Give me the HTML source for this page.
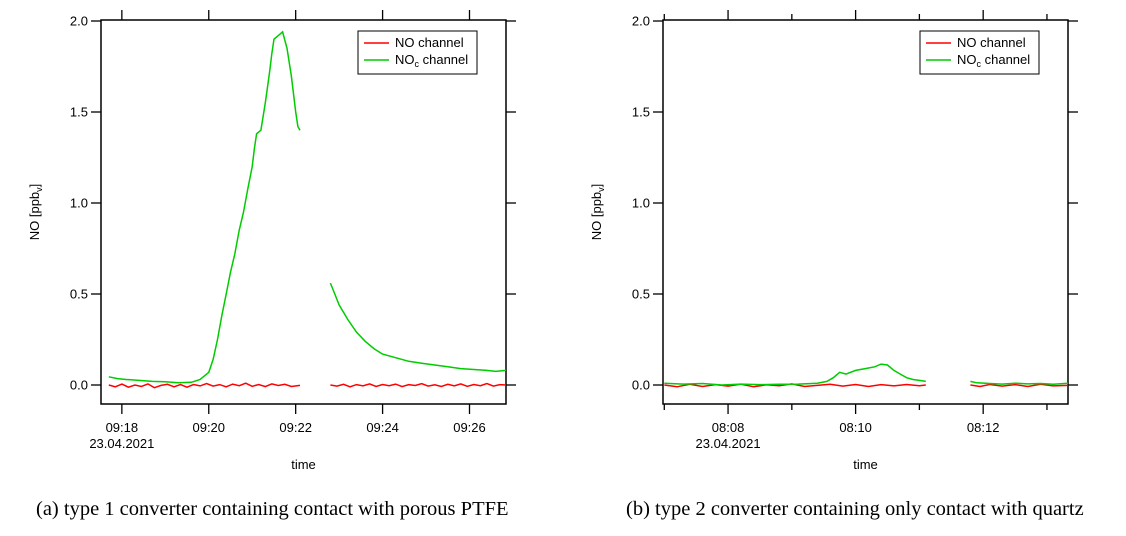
<!DOCTYPE html>
<html><head><meta charset="utf-8"><style>
body{margin:0;background:#fff;width:1126px;height:531px;overflow:hidden;font-family:"Liberation Sans",sans-serif}
svg text{font-family:"Liberation Sans",sans-serif;font-size:13px;fill:#000}
svg text.cap{font-family:"Liberation Serif",serif;font-size:20.5px}
</style></head><body>
<svg id="s" width="1126" height="531">
<text class="cap" x="36" y="515">(a) type 1 converter containing contact with porous PTFE</text>
<text class="cap" x="626" y="515">(b) type 2 converter containing only contact with quartz</text>
</svg>
<script>
// Panel A (minutes after 09:00)
const aGreen1X=[17.7,17.9,18.1,18.4,18.7,19.0,19.3,19.6,19.8,20.0,20.1,20.2,20.3,20.4,20.5,20.6,20.7,20.8,20.9,21.0,21.05,21.1,21.2,21.3,21.4,21.45,21.5,21.6,21.7,21.8,21.9,22.0,22.05,22.1];
const aGreen1Y=[0.045,0.035,0.03,0.025,0.02,0.018,0.012,0.015,0.03,0.07,0.14,0.25,0.38,0.5,0.62,0.72,0.85,0.95,1.08,1.2,1.3,1.38,1.4,1.55,1.72,1.82,1.9,1.92,1.94,1.85,1.7,1.5,1.42,1.4];
const aGreen2X=[22.8,22.9,23.0,23.2,23.4,23.6,23.8,24.0,24.3,24.6,24.9,25.2,25.5,25.8,26.1,26.4,26.6,26.84];
const aGreen2Y=[0.56,0.5,0.44,0.36,0.29,0.24,0.2,0.17,0.15,0.13,0.12,0.11,0.1,0.09,0.085,0.08,0.075,0.08];
const aRed1X=[17.7,17.85,18.0,18.15,18.3,18.45,18.6,18.75,18.9,19.05,19.2,19.35,19.5,19.65,19.8,19.95,20.1,20.25,20.4,20.55,20.7,20.85,21.0,21.15,21.3,21.45,21.6,21.75,21.9,22.1];
const aRed1Y=[0,-0.01,0.005,-0.012,0,-0.008,0.006,-0.015,-0.002,0.004,-0.01,0.002,-0.012,0.003,-0.005,0.008,-0.006,0.002,-0.01,0.005,-0.004,0.01,-0.007,0.003,-0.009,0.006,-0.003,0.004,-0.008,-0.002];
const aRed2X=[22.8,22.95,23.1,23.25,23.4,23.55,23.7,23.85,24.0,24.15,24.3,24.45,24.6,24.75,24.9,25.05,25.2,25.35,25.5,25.65,25.8,25.95,26.1,26.25,26.4,26.55,26.7,26.84];
const aRed2Y=[0,-0.006,0.004,-0.01,0.002,-0.005,0.006,-0.008,0.003,-0.004,0.005,-0.009,0.002,-0.003,0.007,-0.006,0.001,-0.008,0.004,-0.005,0.006,-0.007,0.003,-0.004,0.008,-0.006,0.002,0];
// Panel B (minutes after 08:00)
const bGreen1X=[7.0,7.3,7.6,7.9,8.2,8.5,8.8,9.1,9.4,9.55,9.65,9.75,9.85,10.0,10.15,10.3,10.4,10.5,10.6,10.7,10.8,10.9,11.0,11.1];
const bGreen1Y=[0.01,0.005,0.008,0,0.005,0.002,0.004,0.005,0.01,0.02,0.04,0.07,0.06,0.08,0.09,0.1,0.115,0.11,0.08,0.06,0.04,0.03,0.025,0.02];
const bGreen2X=[11.8,11.9,12.1,12.3,12.5,12.7,12.9,13.1,13.33];
const bGreen2Y=[0.02,0.012,0.008,0.005,0.01,0.006,0.008,0.004,0.01];
const bRed1X=[7.0,7.2,7.4,7.6,7.8,8.0,8.2,8.4,8.6,8.8,9.0,9.2,9.4,9.6,9.8,10.0,10.2,10.4,10.6,10.8,11.0,11.1];
const bRed1Y=[0,-0.01,0.004,-0.008,0.002,-0.006,0.005,-0.01,0.001,-0.004,0.006,-0.008,-0.002,0.004,-0.006,0.003,-0.008,0.002,-0.005,0.003,-0.004,0];
const bRed2X=[11.8,11.95,12.1,12.3,12.5,12.7,12.9,13.1,13.33];
const bRed2Y=[0,-0.008,0.003,-0.006,0.002,-0.008,0.004,-0.005,-0.002];
const yTicks=[0,0.5,1.0,1.5,2.0];
const aXTicks=[18,20,22,24,26];
const aXLabels=["09:18","09:20","09:22","09:24","09:26"];
const bXTicks=[7,8,9,10,11,12,13];
const bXLabels=["","08:08","","08:10","","08:12",""];

const S=document.getElementById('s');const NS='http://www.w3.org/2000/svg';
function mk(t,a,p){const e=document.createElementNS(NS,t);for(const k in a)e.setAttribute(k,a[k]);(p||S).appendChild(e);return e;}
function panel(P){
  const g=mk('g',{});
  
  
  const sx=v=>P.x0+(v-P.d0)/(P.d1-P.d0)*(P.x1-P.x0);
  const sy=v=>385-v/2*364;
  const fr=mk('rect',{x:P.x0,y:20,width:P.x1-P.x0,height:384,fill:'none',stroke:'#000','stroke-width':1.5},g);
  
  
  yTicks.forEach(v=>{
    mk('line',{x1:P.x0-10,x2:P.x0,y1:sy(v),y2:sy(v),stroke:'#000','stroke-width':1.3},g);
    mk('line',{x1:P.x1,x2:P.x1+10,y1:sy(v),y2:sy(v),stroke:'#000','stroke-width':1.3},g);
    const t=mk('text',{x:P.x0-13,y:sy(v)+4.5,'text-anchor':'end'},g);t.textContent=v.toFixed(1);
    
    
  });
  P.ticks.forEach((v,i)=>{
    const major=P.labels[i]!==''||P.allMajor;const L=major?10:6;
    mk('line',{x1:sx(v),x2:sx(v),y1:404,y2:404+L,stroke:'#000','stroke-width':1.3},g);
    mk('line',{x1:sx(v),x2:sx(v),y1:20-L,y2:20,stroke:'#000','stroke-width':1.3},g);
    if(P.labels[i]){const t=mk('text',{x:sx(v),y:432,'text-anchor':'middle'},g);t.textContent=P.labels[i];
      
      }
  });
  const d=mk('text',{x:sx(P.dateAt),y:448,'text-anchor':'middle'},g);d.textContent='23.04.2021';
  
  
  const xt=mk('text',{x:(P.x0+P.x1)/2,y:469,'text-anchor':'middle'},g);xt.textContent='time';
  
  
  const yt=mk('text',{transform:`translate(${P.x0-62},212) rotate(-90)`,'text-anchor':'middle'},g);
  yt.innerHTML='NO  [ppb<tspan font-size="9" dy="3">v</tspan><tspan dy="-3">]</tspan>';
  
  
  P.series.forEach(s=>{
    const pts=s.x.map((v,i)=>sx(v).toFixed(1)+','+sy(s.y[i]).toFixed(1)).join(' ');
    const pl=mk('polyline',{points:pts,fill:'none',stroke:s.c,'stroke-width':1.5},g);
    
    
  });
  const lx=P.x1-148;
  const lg=mk('g',{},g);
  
  
  mk('rect',{x:lx,y:31,width:119,height:43,fill:'#fff',stroke:'#000','stroke-width':1},lg);
  mk('line',{x1:lx+6,x2:lx+31,y1:43,y2:43,stroke:'#f00','stroke-width':1.5},lg);
  mk('line',{x1:lx+6,x2:lx+31,y1:60,y2:60,stroke:'#0c0','stroke-width':1.5},lg);
  const t1=mk('text',{x:lx+37,y:47},lg);t1.textContent='NO channel';
  
  
  const t2=mk('text',{x:lx+37,y:64},lg);t2.innerHTML='NO<tspan font-size="9" dy="3">c</tspan><tspan dy="-3"> channel</tspan>';
  
  
}
panel({name:'panel-a',x0:101,x1:506,d0:17.52,d1:26.84,ticks:aXTicks,labels:aXLabels,allMajor:true,dateAt:18,
 series:[{x:aRed1X,y:aRed1Y,c:'#f00',n:'no-line-1'},{x:aRed2X,y:aRed2Y,c:'#f00',n:'no-line-2'},
 {x:aGreen1X,y:aGreen1Y,c:'#0c0',n:'noc-line-1'},{x:aGreen2X,y:aGreen2Y,c:'#0c0',n:'noc-line-2'}]});
panel({name:'panel-b',x0:663,x1:1068,d0:6.98,d1:13.33,ticks:bXTicks,labels:bXLabels,allMajor:false,dateAt:8,
 series:[{x:bRed1X,y:bRed1Y,c:'#f00',n:'no-line-1'},{x:bRed2X,y:bRed2Y,c:'#f00',n:'no-line-2'},
 {x:bGreen1X,y:bGreen1Y,c:'#0c0',n:'noc-line-1'},{x:bGreen2X,y:bGreen2Y,c:'#0c0',n:'noc-line-2'}]});
</script>
</body></html>
